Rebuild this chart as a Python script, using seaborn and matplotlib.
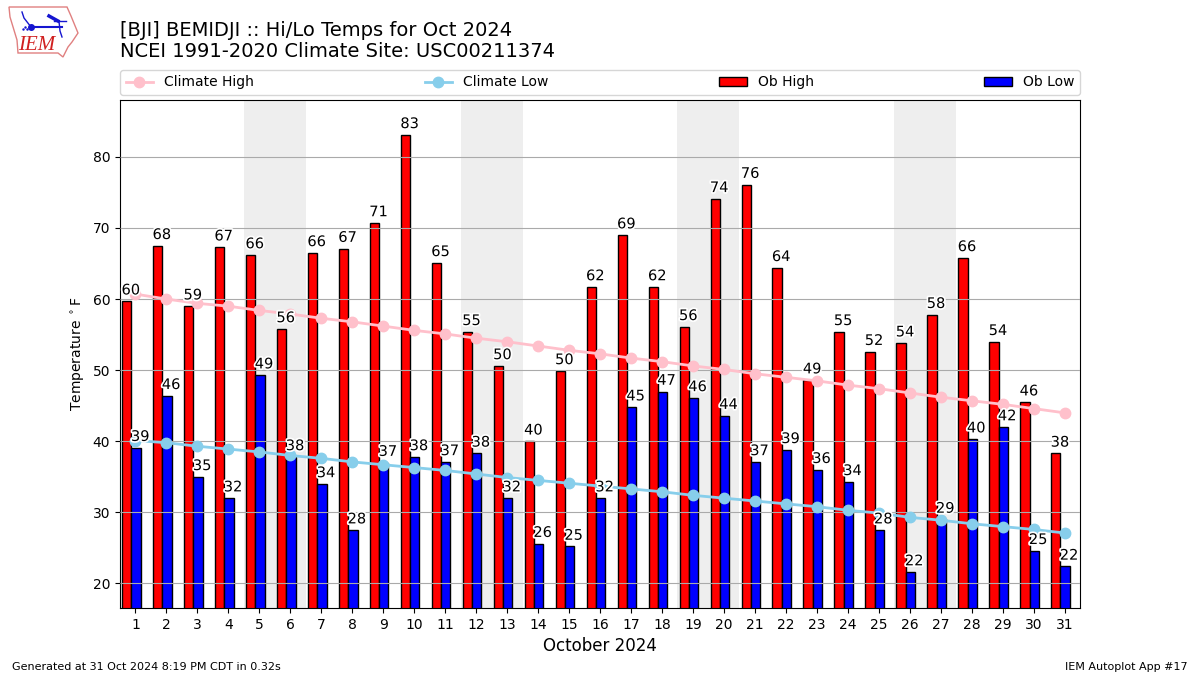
import matplotlib
matplotlib.use("Agg")
import matplotlib.pyplot as plt
import matplotlib.patheffects as pe
from matplotlib.patches import Polygon
import numpy as np
import seaborn as sns

days = list(range(1, 32))
ob_high = [59.7, 67.5, 59.0, 67.3, 66.2, 55.8, 66.5, 67.1, 70.7, 83.1, 65.1, 55.4, 50.6, 40.0, 49.9, 61.7,
           69.0, 61.7, 56.1, 74.1, 76.1, 64.4, 48.6, 55.4, 52.6, 53.8, 57.8, 65.8, 54.0, 45.5, 38.3]
ob_low = [39.1, 46.4, 35.0, 32.0, 49.3, 37.8, 34.0, 27.5, 37.0, 37.8, 37.1, 38.3, 32.0, 25.6, 25.2, 32.0,
          44.8, 47.0, 46.1, 43.6, 37.1, 38.8, 36.0, 34.3, 27.5, 21.6, 29.0, 40.3, 42.0, 24.6, 22.4]
high_labels = [60, 68, 59, 67, 66, 56, 66, 67, 71, 83, 65, 55, 50, 40, 50, 62,
               69, 62, 56, 74, 76, 64, 49, 55, 52, 54, 58, 66, 54, 46, 38]
low_labels = [39, 46, 35, 32, 49, 38, 34, 28, 37, 38, 37, 38, 32, 26, 25, 32,
              45, 47, 46, 44, 37, 39, 36, 34, 28, 22, 29, 40, 42, 25, 22]
climate_high = [60.7, 60.0, 59.4, 59.0, 58.4, 57.9, 57.3, 56.8, 56.2, 55.6, 55.1, 54.5, 54.0, 53.4, 52.8, 52.3,
                51.7, 51.2, 50.6, 50.1, 49.5, 49.0, 48.5, 47.9, 47.4, 46.8, 46.2, 45.7, 45.2, 44.6, 44.0]
climate_low = [40.1, 39.8, 39.3, 38.9, 38.5, 38.0, 37.6, 37.1, 36.7, 36.3, 35.9, 35.4, 34.9, 34.5, 34.1, 33.7,
               33.3, 32.9, 32.4, 32.0, 31.6, 31.2, 30.8, 30.3, 29.9, 29.3, 28.9, 28.4, 28.0, 27.6, 27.1]
weekend_starts = [5, 12, 19, 26]

fig = plt.figure(figsize=(12, 6.75), dpi=100)
ax = fig.add_axes([120 / 1200, 1 - 608 / 675, 960 / 1200, 508 / 675])
d = np.array(days)

for s in weekend_starts:
    ax.axvspan(s - 0.5, s + 1.5, color="#eeeeee", lw=0, zorder=0)

sns.barplot(x=d - 0.28, y=ob_high, native_scale=True, width=0.3, color="red", saturation=1,
            edgecolor="k", linewidth=1, ax=ax, zorder=2, label="Ob High")
sns.barplot(x=d + 0.02, y=ob_low, native_scale=True, width=0.3, color="blue", saturation=1,
            edgecolor="k", linewidth=1, ax=ax, zorder=2, label="Ob Low")
sns.lineplot(x=d, y=climate_high, color="pink", lw=2, marker="o", markersize=7.5, markeredgecolor="pink",
             markeredgewidth=1, ax=ax, zorder=3, label="Climate High")
sns.lineplot(x=d, y=climate_low, color="skyblue", lw=2, marker="o", markersize=7.5, markeredgecolor="skyblue",
             markeredgewidth=1, ax=ax, zorder=3, label="Climate Low")

ax.set_axisbelow(False)
ax.yaxis.grid(True, color="#aaaaaa", lw=0.8, zorder=2.5)

stroke = [pe.withStroke(linewidth=2.5, foreground="white")]
for x, h, hl, l, ll in zip(days, ob_high, high_labels, ob_low, low_labels):
    ax.text(x - 0.15, h + 0.95, str(hl), ha="center", va="baseline", fontsize=10.5, path_effects=stroke, zorder=4)
    ax.text(x + 0.15, l + 0.95, str(ll), ha="center", va="baseline", fontsize=10.5, path_effects=stroke, zorder=4)

ax.set_xlim(0.5, 31.5)
ax.set_ylim(16.55, 88.0)
ax.set_xticks(days)
ax.set_xticklabels([str(x) for x in days])
ax.set_yticks(range(20, 90, 10))
ax.set_xlabel("October 2024", fontsize=12)
ax.set_ylabel(r"Temperature $^\circ$F")

handles, labels = ax.get_legend_handles_labels()
order = [labels.index(n) for n in ["Climate High", "Climate Low", "Ob High", "Ob Low"]]
ax.legend([handles[i] for i in order], [labels[i] for i in order], loc="lower left",
          bbox_to_anchor=(0, 1.01, 1, 0.05), mode="expand", ncol=4, borderaxespad=0, fontsize=10)

fig.text(120 / 1200, 1 - 36 / 675, "[BJI] BEMIDJI :: Hi/Lo Temps for Oct 2024", fontsize=14, va="baseline")
fig.text(120 / 1200, 1 - 57 / 675, "NCEI 1991-2020 Climate Site: USC00211374", fontsize=14, va="baseline")
fig.text(12 / 1200, 1 - 670 / 675, "Generated at 31 Oct 2024 8:19 PM CDT in 0.32s", fontsize=8, va="baseline")
fig.text(1188 / 1200, 1 - 670 / 675, "IEM Autoplot App #17", fontsize=8, ha="right", va="baseline")

# logo
logo = fig.add_axes([0, 1 - 60 / 675, 84 / 1200, 60 / 675])
logo.set_xlim(0, 84)
logo.set_ylim(60, 0)
logo.axis("off")
outline = [(9, 7), (67, 7), (71, 16), (78, 33), (72, 42), (68, 47), (65, 53), (63, 57), (58, 53), (18, 53), (17, 40), (10, 17)]
logo.add_patch(Polygon(outline, closed=True, fill=False, edgecolor="#e08080", lw=1))
logo.plot([31, 62], [27, 27], color="#1515d0", lw=1.5)
logo.plot([22, 24, 31], [12, 18, 27], color="#1515d0", lw=1)
logo.plot([49, 58], [16, 21], color="#1515d0", lw=2.5)
logo.plot([54, 66], [21, 21], color="#1515d0", lw=1)
logo.plot([59, 60, 62], [21, 31, 37], color="#1515d0", lw=1)
logo.plot([31], [27], "o", color="#1515d0", ms=4)
logo.plot([23, 25, 27], [29, 27, 29], ".", color="#1515d0", ms=1.5)
logo.text(37, 45, "IEM", family="Liberation Serif", style="italic", color="#d02020", fontsize=15, ha="center", va="center")

fig.savefig("out.png", dpi=100)
